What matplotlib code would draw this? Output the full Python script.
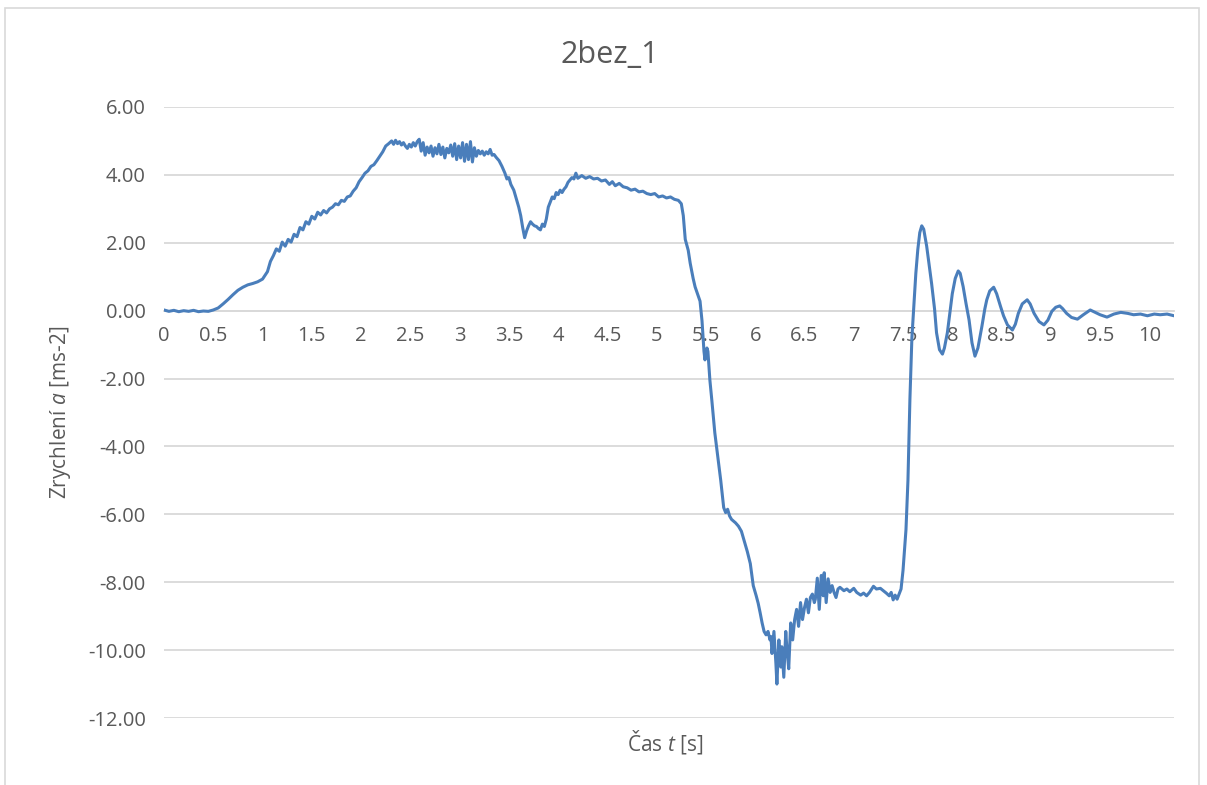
import numpy as np
import matplotlib.pyplot as plt
from matplotlib.patches import Rectangle

plt.rcParams['font.family'] = ['Open Sans', 'DejaVu Sans']
plt.rcParams['mathtext.fontset'] = 'custom'
plt.rcParams['mathtext.rm'] = 'Open Sans'
plt.rcParams['mathtext.it'] = 'Open Sans:italic'

# --- data (time [s], acceleration [m/s^2]) ---
time_s = [
    0.00, 0.05, 0.10, 0.15, 0.20, 0.25, 0.30, 0.35, 0.40, 0.45, 0.50,
    0.55, 0.60, 0.65, 0.70, 0.75, 0.80, 0.85, 0.90, 0.95, 1.00, 1.05,
    1.08, 1.11, 1.14, 1.17, 1.20, 1.23, 1.26, 1.29, 1.32, 1.35, 1.38, 1.41,
    1.44, 1.47, 1.50, 1.53, 1.56, 1.59, 1.62, 1.65, 1.68, 1.71, 1.74, 1.77,
    1.80, 1.83, 1.86, 1.89, 1.92, 1.95, 1.98, 2.01, 2.04, 2.07, 2.10, 2.13,
    2.16, 2.19, 2.22, 2.25, 2.28,
    2.31, 2.33, 2.35, 2.37, 2.39, 2.41, 2.43, 2.45, 2.47, 2.49, 2.51, 2.53,
    2.55, 2.57, 2.59, 2.61, 2.63, 2.65, 2.67, 2.69, 2.71, 2.73, 2.75, 2.77,
    2.79, 2.81, 2.83, 2.85, 2.87, 2.89, 2.91, 2.93, 2.95, 2.97, 2.99, 3.01,
    3.03, 3.05, 3.07, 3.09, 3.11, 3.13, 3.15, 3.17, 3.19, 3.21, 3.23, 3.25,
    3.27, 3.29, 3.31, 3.33, 3.35, 3.37,
    3.40, 3.43, 3.46, 3.48, 3.50, 3.52, 3.55, 3.58, 3.60, 3.62, 3.64, 3.66,
    3.68, 3.70, 3.72, 3.74, 3.76, 3.78, 3.80, 3.82, 3.84, 3.86, 3.88, 3.90,
    3.92, 3.94, 3.96, 3.98, 4.00, 4.02, 4.04, 4.06, 4.08, 4.10, 4.12, 4.14,
    4.16, 4.18, 4.20,
    4.24, 4.28, 4.32, 4.36, 4.40, 4.44, 4.48, 4.52, 4.55, 4.58, 4.62, 4.66,
    4.70, 4.74, 4.78, 4.82, 4.86, 4.90, 4.94, 4.98, 5.02, 5.06, 5.10, 5.14,
    5.18, 5.22, 5.25,
    5.27, 5.29, 5.32, 5.34, 5.37, 5.39, 5.42, 5.44, 5.46, 5.48, 5.49, 5.51,
    5.52, 5.54, 5.56, 5.59, 5.62, 5.65, 5.68, 5.70, 5.72, 5.74, 5.76, 5.78,
    5.80, 5.83, 5.86, 5.89, 5.92, 5.95, 5.98, 6.01, 6.03, 6.05, 6.07,
    6.09, 6.11, 6.13, 6.15, 6.16, 6.17, 6.19, 6.21, 6.22, 6.24, 6.25, 6.26,
    6.27, 6.29, 6.31, 6.32, 6.34, 6.36, 6.38, 6.40, 6.42, 6.44, 6.46, 6.48,
    6.50, 6.52, 6.54, 6.56, 6.58, 6.60, 6.61, 6.63, 6.65, 6.67, 6.69, 6.70,
    6.72, 6.74, 6.76, 6.78, 6.80, 6.82, 6.84, 6.86,
    6.90, 6.93, 6.96, 7.00, 7.03, 7.07, 7.10, 7.13, 7.16, 7.20, 7.23, 7.27,
    7.30, 7.33, 7.36, 7.38, 7.40, 7.42, 7.44, 7.46, 7.48,
    7.50, 7.53, 7.55, 7.57, 7.59, 7.61, 7.63, 7.65, 7.67, 7.69, 7.71, 7.74,
    7.77, 7.79, 7.82, 7.84, 7.87, 7.90, 7.92, 7.95, 7.98, 8.00, 8.03, 8.06,
    8.08, 8.11, 8.14, 8.17, 8.20, 8.23, 8.26, 8.30, 8.33, 8.35, 8.38, 8.42,
    8.45, 8.49, 8.52, 8.56, 8.61, 8.64, 8.67, 8.71, 8.76, 8.79, 8.83, 8.88,
    8.93, 8.97, 9.01, 9.05, 9.09, 9.12, 9.16, 9.21, 9.27, 9.33, 9.40, 9.45,
    9.50, 9.57, 9.64, 9.71, 9.78, 9.84, 9.91, 9.98, 10.05, 10.11, 10.18, 10.25,
]

accel = [
    0.02, -0.02, 0.01, -0.03, 0.00, -0.02, 0.01, -0.03, -0.01, -0.02, 0.02,
    0.08, 0.20, 0.33, 0.47, 0.60, 0.69, 0.76, 0.80, 0.85, 0.93, 1.15,
    1.45, 1.62, 1.82, 1.75, 2.02, 1.90, 2.10, 2.02, 2.25, 2.18, 2.45, 2.38,
    2.62, 2.55, 2.78, 2.70, 2.90, 2.82, 2.95, 2.88, 3.00, 3.05, 3.15, 3.12,
    3.25, 3.22, 3.35, 3.38, 3.52, 3.62, 3.80, 3.92, 4.05, 4.12, 4.25, 4.30,
    4.42, 4.55, 4.68, 4.85, 4.92,
    5.00, 4.90, 5.02, 4.92, 4.98, 4.88, 4.95, 4.85, 4.78, 4.90, 4.82, 4.95,
    4.85, 4.98, 5.05, 4.70, 4.95, 4.58, 4.82, 4.65, 4.85, 4.55, 4.80, 4.62,
    4.90, 4.60, 4.82, 4.50, 4.78, 4.65, 4.88, 4.55, 4.92, 4.45, 4.85, 4.50,
    4.95, 4.40, 4.90, 4.45, 4.98, 4.38, 4.80, 4.55, 4.72, 4.62, 4.70, 4.58,
    4.68, 4.62, 4.75, 4.58, 4.60, 4.52,
    4.42, 4.25, 4.05, 3.88, 3.92, 3.72, 3.55, 3.25, 3.05, 2.80, 2.45, 2.15,
    2.35, 2.50, 2.62, 2.55, 2.50, 2.48, 2.42, 2.38, 2.55, 2.48, 2.70, 3.05,
    3.20, 3.35, 3.30, 3.48, 3.42, 3.55, 3.48, 3.58, 3.65, 3.78, 3.85, 3.92,
    3.88, 4.05, 3.90,
    3.98, 3.90, 3.95, 3.88, 3.90, 3.82, 3.85, 3.72, 3.80, 3.68, 3.75, 3.65,
    3.62, 3.55, 3.58, 3.50, 3.52, 3.45, 3.42, 3.45, 3.35, 3.38, 3.32, 3.35,
    3.28, 3.25, 3.15,
    2.80, 2.10, 1.78, 1.40, 0.95, 0.70, 0.45, 0.28, -0.30, -1.20, -1.45, -1.10,
    -1.20, -2.05, -2.65, -3.60, -4.30, -5.00, -5.80, -5.95, -5.85, -6.05, -6.15, -6.20,
    -6.25, -6.35, -6.50, -6.80, -7.10, -7.45, -8.10, -8.40, -8.62, -8.90, -9.20,
    -9.45, -9.55, -9.45, -9.70, -9.60, -10.10, -9.45, -10.40, -11.00, -9.70, -10.20, -10.50,
    -9.90, -10.80, -9.45, -9.90, -10.55, -9.20, -9.70, -9.10, -8.80, -9.30, -8.60, -9.10,
    -8.75, -8.50, -8.90, -8.45, -8.35, -8.60, -8.50, -7.88, -8.80, -7.80, -8.40, -7.72,
    -8.60, -7.90, -8.30, -8.10, -8.30, -8.45, -8.20, -8.15,
    -8.25, -8.20, -8.28, -8.18, -8.30, -8.38, -8.32, -8.40, -8.30, -8.12, -8.20, -8.18,
    -8.25, -8.32, -8.40, -8.30, -8.52, -8.38, -8.50, -8.35, -8.20,
    -7.65, -6.45, -5.00, -2.60, -0.80, 0.15, 1.10, 1.80, 2.30, 2.50, 2.40, 1.90,
    1.25, 0.80, 0.05, -0.65, -1.15, -1.28, -1.10, -0.65, 0.05, 0.50, 0.95, 1.17,
    1.10, 0.71, 0.20, -0.27, -0.95, -1.34, -1.10, -0.47, 0.05, 0.32, 0.58, 0.69,
    0.50, 0.12, -0.15, -0.42, -0.57, -0.40, -0.08, 0.20, 0.32, 0.20, -0.08, -0.32,
    -0.42, -0.28, -0.02, 0.10, 0.14, 0.06, -0.08, -0.20, -0.25, -0.12, 0.02, -0.05,
    -0.12, -0.19, -0.10, -0.05, -0.08, -0.12, -0.10, -0.15, -0.10, -0.12, -0.10, -0.15,
]

x_ticks = np.arange(0, 10.01, 0.5)
x_ticklabels = ['0', '0.5', '1', '1.5', '2', '2.5', '3', '3.5', '4', '4.5', '5',
                '5.5', '6', '6.5', '7', '7.5', '8', '8.5', '9', '9.5', '10']
y_ticks = np.arange(-12, 6.01, 2)

text_col = '#595959'
grid_col = '#D9D9D9'

fig = plt.figure(figsize=(12.07, 7.85), dpi=100)
ax = fig.add_axes([164/1207, 67/785, 1010/1207, 611/785])

ax.plot(time_s, accel, color='#4A7EBB', lw=2.2, zorder=3)

ax.set_xlim(0, 10.25)
ax.set_ylim(-12, 6)
ax.set_yticks(y_ticks)
ax.set_yticklabels([f'{v:.2f}' for v in y_ticks])
ax.set_xticks(x_ticks)
ax.set_xticklabels(x_ticklabels)
ax.grid(axis='y', color=grid_col, lw=1.3, zorder=0)

for s in ['top', 'right', 'left']:
    ax.spines[s].set_visible(False)
ax.spines['bottom'].set_position(('data', 0))
ax.spines['bottom'].set_color(grid_col)
ax.spines['bottom'].set_linewidth(1.3)

ax.tick_params(axis='both', length=0, labelsize=14.5, labelcolor=text_col)
ax.tick_params(axis='y', pad=13)
ax.tick_params(axis='x', pad=11)

ax.set_ylabel(r'Zrychlení $a$ [ms-2]', fontsize=15, color=text_col, labelpad=11)
fig.text(665/1207, 1 - 742/785, r'Čas $t$ [s]', fontsize=15, color=text_col,
         ha='center', va='center')
fig.text(610/1207, 1 - 55/785, '2bez_1', fontsize=22, color=text_col,
         ha='center', va='center')

fig.patches.append(Rectangle((5/1207, -0.05), 1194/1207, 1.05 - 8/785,
                             transform=fig.transFigure, fill=False,
                             edgecolor=grid_col, lw=1.2))

fig.savefig('out.png', dpi=100)
